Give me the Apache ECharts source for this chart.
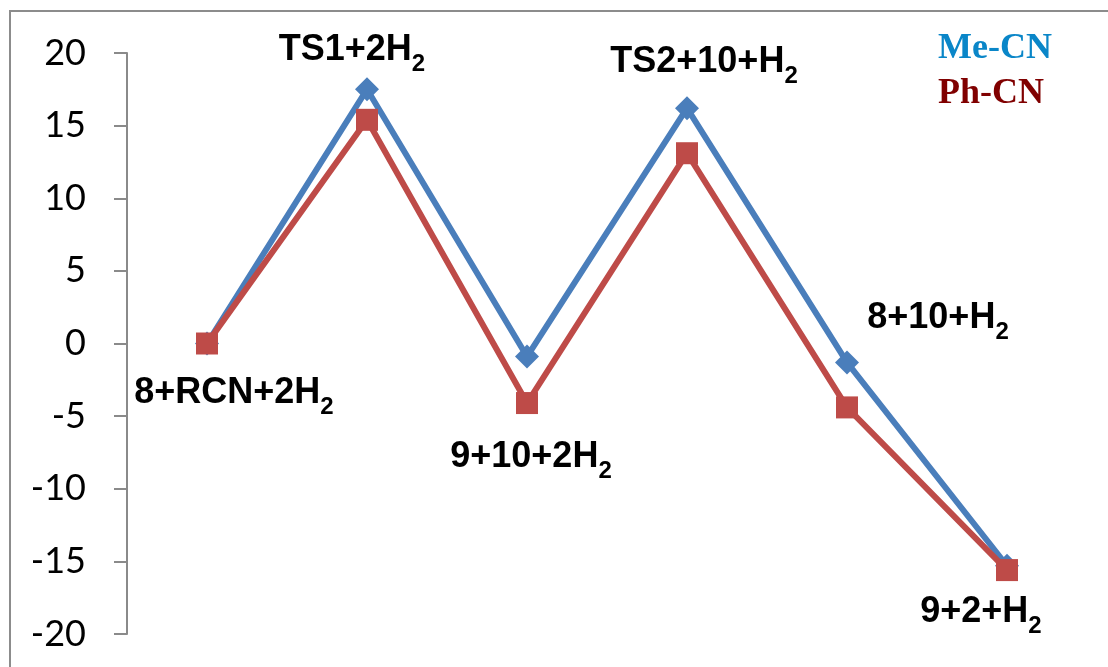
<!DOCTYPE html>
<html>
<head>
<meta charset="utf-8">
<script src="https://cdn.jsdelivr.net/npm/echarts@6/dist/echarts.min.js"></script>
<style>
  html, body { margin: 0; padding: 0; background: #ffffff; }
  #chart { width: 1108px; height: 667px; }
</style>
</head>
<body>
<div id="chart"></div>
<script>
// Reaction steps (energies in kcal/mol)
const categories = ['8+RCN+2H2', 'TS1+2H2', '9+10+2H2', 'TS2+10+H2', '8+10+H2', '9+2+H2'];
const meCN = [0, 17.5, -0.9, 16.2, -1.3, -15.3];
const phCN = [0, 15.4, -4.1, 13.1, -4.4, -15.6];
const yTicks = [-20, -15, -10, -5, 0, 5, 10, 15, 20];

// Which series each step label hangs from, and its shift from that point
const labelAnchor = ['ph', 'me', 'ph', 'me', 'me', 'ph'];
const labelOffset = [[27, 50], [-15, -39], [4, 54], [17, -46], [91, -44], [-26, 42]];

// "H2" -> H with subscript 2
function richName(name) {
  const m = name.match(/^(.*H)2$/);
  return m ? '{b|' + m[1] + '}{s|2}' : '{b|' + name + '}';
}

const richStyle = {
  b: { fontFamily: 'Liberation Sans', fontWeight: 'bold', fontSize: 36, color: '#000', lineHeight: 52, verticalAlign: 'middle' },
  s: { fontFamily: 'Liberation Sans', fontWeight: 'bold', fontSize: 24, color: '#000', lineHeight: 52, verticalAlign: 'bottom' }
};

function buildData(values, key) {
  return values.map((v, i) => {
    const item = { value: v };
    if (labelAnchor[i] === key) {
      item.label = {
        show: true,
        position: 'inside',
        offset: labelOffset[i],
        formatter: richName(categories[i]),
        rich: richStyle
      };
    }
    return item;
  });
}

const chart = echarts.init(document.getElementById('chart'), null, { renderer: 'canvas' });

chart.setOption({
  animation: false,
  backgroundColor: '#ffffff',
  graphic: [{
    type: 'rect',
    shape: { x: 10, y: 11, width: 1200, height: 800 },
    style: { fill: 'none', stroke: '#8c8c8c', lineWidth: 2 },
    silent: true,
    z: -10
  }],
  legend: {
    orient: 'vertical',
    left: 933,
    top: 26,
    padding: 0,
    itemGap: 0,
    itemWidth: 0,
    itemHeight: 0,
    icon: 'none',
    selectedMode: false,
    textStyle: {
      fontFamily: 'Liberation Serif',
      fontWeight: 'bold',
      fontSize: 36,
      lineHeight: 45
    },
    data: [
      { name: 'Me-CN', textStyle: { color: '#0A86C8' } },
      { name: 'Ph-CN', textStyle: { color: '#800000' } }
    ]
  },
  grid: { left: 127, top: 53, width: 960, bottom: 33, containLabel: false },
  xAxis: {
    type: 'category',
    data: categories,
    boundaryGap: true,
    axisLine: { show: false },
    axisTick: { show: false },
    axisLabel: { show: false },
    splitLine: { show: false }
  },
  yAxis: {
    type: 'value',
    min: yTicks[0],
    max: yTicks[yTicks.length - 1],
    interval: 5,
    axisLine: { show: true, lineStyle: { color: '#8a8a8a', width: 2 } },
    axisTick: { show: true, inside: false, length: 13, lineStyle: { color: '#8a8a8a', width: 2 } },
    axisLabel: {
      show: true,
      margin: 41,
      fontFamily: 'Lato',
      fontSize: 36,
      color: '#000'
    },
    splitLine: { show: false }
  },
  series: [
    {
      name: 'Me-CN',
      type: 'line',
      data: buildData(meCN, 'me'),
      symbol: 'diamond',
      symbolSize: 24,
      lineStyle: { color: '#4A7EBB', width: 6 },
      itemStyle: { color: '#4A7EBB' },
      z: 2
    },
    {
      name: 'Ph-CN',
      type: 'line',
      data: buildData(phCN, 'ph'),
      symbol: 'rect',
      symbolSize: 22,
      lineStyle: { color: '#BE4B48', width: 6 },
      itemStyle: { color: '#BE4B48' },
      z: 3
    }
  ]
});
</script>
</body>
</html>
